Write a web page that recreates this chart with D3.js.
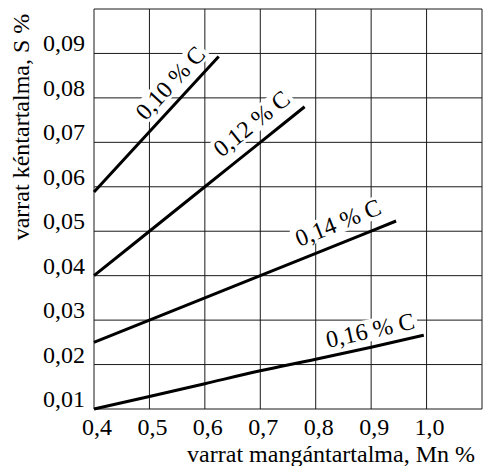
<!DOCTYPE html>
<html>
<head>
<meta charset="utf-8">
<script src="https://cdn.jsdelivr.net/npm/d3@7"></script>
<style>
  html, body { margin: 0; padding: 0; background: #fff; }
  svg { display: block; }
</style>
</head>
<body>
<div id="chart"></div>
<script>
// Sulphur content of the weld vs. its manganese content, for four carbon levels
const seriesNames = ["0,10 % C", "0,12 % C", "0,14 % C", "0,16 % C"];
const mnC10 = [0.4, 0.5, 0.625];
const sC10 = [0.0588, 0.0724, 0.0893];
const mnC12 = [0.4, 0.6, 0.7, 0.78];
const sC12 = [0.040, 0.060, 0.070, 0.078];
const mnC14 = [0.4, 0.5, 0.7, 0.9, 0.945];
const sC14 = [0.025, 0.030, 0.040, 0.050, 0.0523];
const mnC16 = [0.4, 0.5, 0.6, 0.7, 0.8, 0.9, 0.995];
const sC16 = [0.010, 0.0128, 0.0157, 0.0186, 0.0212, 0.0239, 0.0266];

// where each curve's name sits (Mn %, S %)
const labelMn = [0.537, 0.684, 0.840, 0.898];
const labelS = [0.0834, 0.0743, 0.0520, 0.0278];

const xTicks = [0.4, 0.5, 0.6, 0.7, 0.8, 0.9, 1.0];
const yTicks = [0.01, 0.02, 0.03, 0.04, 0.05, 0.06, 0.07, 0.08, 0.09];
const xTitle = "varrat mangántartalma, Mn %";
const yTitle = "varrat kéntartalma, S %";

const W = 484, H = 466;
const margin = { top: 9, right: 2, bottom: 57, left: 94 };
const FONT = "'Liberation Serif', 'Times New Roman', Times, serif";

const huLocale = d3.formatLocale({ decimal: ",", thousands: " ", grouping: [3], currency: ["", ""] });
const fmtX = huLocale.format(".1f");
const fmtY = huLocale.format(".2f");

const x = d3.scaleLinear().domain([0.4, 1.1]).range([margin.left, W - margin.right]);
const y = d3.scaleLinear().domain([0.01, 0.10]).range([H - margin.bottom, margin.top]);

const svg = d3.select("#chart").append("svg")
  .attr("width", W).attr("height", H)
  .attr("font-family", FONT).style("font-family", FONT);

// grid (frame included)
const grid = svg.append("g").attr("stroke", "#1a1a1a").attr("stroke-width", 1);
const xGrid = d3.range(0.4, 1.1001, 0.1);
const yGrid = d3.range(0.01, 0.10001, 0.01);
grid.selectAll("line.v").data(xGrid).join("line").attr("class", "v")
  .attr("x1", d => x(d)).attr("x2", d => x(d))
  .attr("y1", y(0.10)).attr("y2", y(0.01));
grid.selectAll("line.h").data(yGrid).join("line").attr("class", "h")
  .attr("x1", x(0.4)).attr("x2", x(1.1))
  .attr("y1", d => y(d)).attr("y2", d => y(d));

// tick labels
svg.append("g").selectAll("text").data(xTicks).join("text")
  .attr("x", d => x(d) + 3).attr("y", H - margin.bottom + 26)
  .attr("text-anchor", "middle").attr("font-size", 24)
  .text(d => fmtX(d));
svg.append("g").selectAll("text").data(yTicks).join("text")
  .attr("x", margin.left - 9).attr("y", d => y(d) - 2)
  .attr("text-anchor", "end").attr("font-size", 24)
  .text(d => fmtY(d));

// axis titles
svg.append("text").attr("x", 475).attr("y", 462)
  .attr("text-anchor", "end").attr("font-size", 24).text(xTitle);
svg.append("text").attr("transform", "translate(29,127) rotate(-90)")
  .attr("text-anchor", "middle").attr("font-size", 24).text(yTitle);

const series = [
  { name: seriesNames[0], pts: mnC10.map((m, i) => [m, sC10[i]]) },
  { name: seriesNames[1], pts: mnC12.map((m, i) => [m, sC12[i]]) },
  { name: seriesNames[2], pts: mnC14.map((m, i) => [m, sC14[i]]) },
  { name: seriesNames[3], pts: mnC16.map((m, i) => [m, sC16[i]]) }
];

// curve names, on a white patch that interrupts the grid
series.forEach((s, i) => {
  const p0 = s.pts[0], p1 = s.pts[s.pts.length - 1];
  const ang = Math.atan2(y(p1[1]) - y(p0[1]), x(p1[0]) - x(p0[0])) * 180 / Math.PI;
  const g = svg.append("g")
    .attr("transform", `translate(${x(labelMn[i])},${y(labelS[i])}) rotate(${ang})`);
  const t = g.append("text").attr("text-anchor", "middle").attr("dy", "0.35em")
    .attr("font-size", 24).text(s.name);
  const bb = t.node().getBBox();
  g.insert("rect", "text")
    .attr("x", bb.x - 3).attr("y", bb.y + 2)
    .attr("width", bb.width + 6).attr("height", bb.height - 4)
    .attr("fill", "#fff");
});

// curves
const line = d3.line().x(d => x(d[0])).y(d => y(d[1])).curve(d3.curveMonotoneX);
svg.append("g").selectAll("path").data(series).join("path")
  .attr("d", d => line(d.pts))
  .attr("fill", "none").attr("stroke", "#000").attr("stroke-width", 3)
  .attr("stroke-linecap", "butt");
</script>
</body>
</html>
